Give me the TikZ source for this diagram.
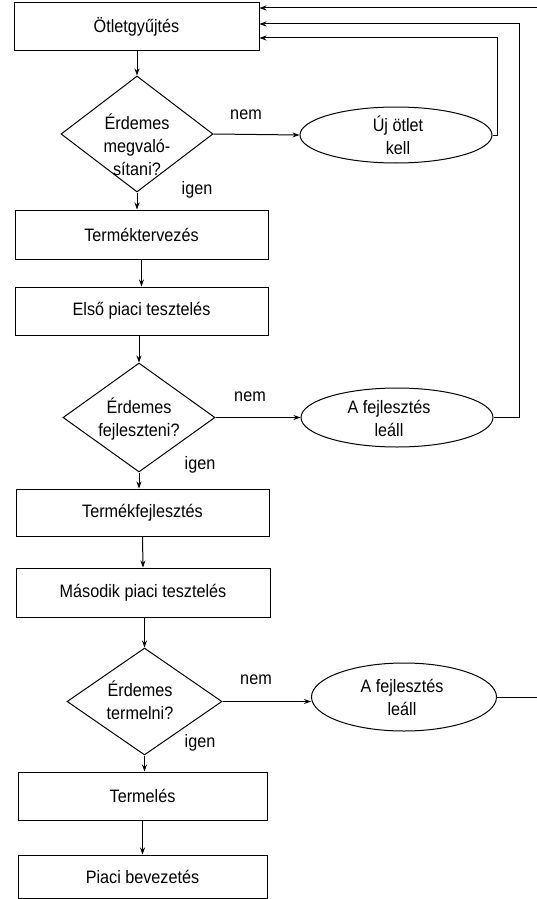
\documentclass[tikz,border=0pt]{standalone}
\usepackage{fontspec}
\setmainfont{Liberation Sans}[FakeStretch=0.9]
\usetikzlibrary{shapes.geometric,arrows.meta}
\begin{document}
\begin{tikzpicture}[x=1pt,y=-1pt,
  font=\fontsize{18}{23}\selectfont,
  line width=1pt,
  procbox/.style={draw, rectangle, inner sep=0pt},
  decision/.style={draw, diamond, inner sep=0pt, aspect=1},
  terminal/.style={draw, ellipse, inner sep=0pt},
  txt/.style={align=center, inner sep=0pt},
  arr/.style={-{Stealth[length=7pt,width=5pt]}}]
\useasboundingbox (0,0) rectangle (537,899);

% process boxes
\node[procbox, minimum width=245, minimum height=48] (b1) at (136.5,27) {Ötletgyűjtés};
\node[procbox, minimum width=253, minimum height=49] (b2) at (141.5,234.5) {Terméktervezés};
\node[procbox, minimum width=253, minimum height=48] (b3) at (141.5,311) {Első piaci tesztelés};
\node[procbox, minimum width=253, minimum height=47] (b4) at (142.5,512.5) {Termékfejlesztés};
\node[procbox, minimum width=254, minimum height=49] (b5) at (143,592.5) {Második piaci tesztelés};
\node[procbox, minimum width=249, minimum height=48] (b6) at (142.5,796) {Termelés};
\node[procbox, minimum width=249, minimum height=43] (b7) at (142.5,876.5) {Piaci bevezetés};

% decisions
\node[decision, minimum width=152, minimum height=116] (d1) at (137,134) {};
\node[txt] (d1t) at (137,145) {Érdemes\\megvaló-\\sítani?};
\node[decision, minimum width=152, minimum height=109] (d2) at (139,417.5) {};
\node[txt] (d2t) at (139,419) {Érdemes\\fejleszteni?};
\node[decision, minimum width=155, minimum height=107] (d3) at (144.5,701.5) {};
\node[txt] (d3t) at (140,700) {Érdemes\\termelni?};

% terminals
\node[terminal, minimum width=192, minimum height=56] (e1) at (396,135) {};
\node[txt] (e1t) at (398,135) {Új ötlet\\kell};
\node[terminal, minimum width=192, minimum height=59] (e2) at (397,417.5) {};
\node[txt] (e2t) at (389,418) {A fejlesztés\\leáll};
\node[terminal, minimum width=185, minimum height=68] (e3) at (404,697) {};
\node[txt] (e3t) at (402,697) {A fejlesztés\\leáll};

% labels
\node[txt] (n1) at (246,115) {nem};
\node[txt] (i1) at (197,190) {igen};
\node[txt] (n2) at (250,397) {nem};
\node[txt] (i2) at (200,465) {igen};
\node[txt] (n3) at (256,680) {nem};
\node[txt] (i3) at (200,743) {igen};

% main flow
\draw[arr] (d1.north |- b1.south) -- (d1.north);
\draw[arr] (d1.south) -- (d1.south |- b2.north);
\draw[arr] (b2.south) -- (b3.north);
\draw[arr] (d2.north |- b3.south) -- (d2.north);
\draw[arr] (d2.south) -- (d2.south |- b4.north);
\draw[arr] (b4.south) -- (b5.north);
\draw[arr] (d3.north |- b5.south) -- (d3.north);
\draw[arr] (d3.south) -- (d3.south |- b6.north);
\draw[arr] (b6.south) -- (b7.north);

% "nem" branches
\draw[arr] (d1.east) -- (e1.west);
\draw[arr] (d2.east) -- (e2.west);
\draw[arr] (d3.east) -- (d3.east -| e3.west);

% feedback loops
\coordinate (r1) at (497,38);
\coordinate (r2) at (519,24);
\coordinate (r3) at (545,8);
\draw[arr] (e1.east) -| (r1) -- (r1 -| b1.east);
\draw[arr] (e2.east) -| (r2) -- (r2 -| b1.east);
\draw[arr] (e3.east) -| (r3) -- (r3 -| b1.east);
\end{tikzpicture}
\end{document}
